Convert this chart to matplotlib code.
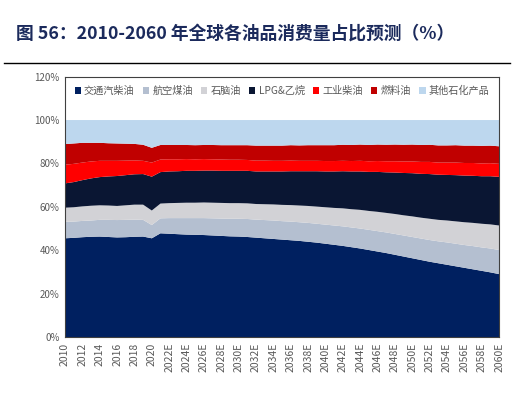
import matplotlib
matplotlib.use("Agg")
import matplotlib.pyplot as plt
from matplotlib.patches import Patch

plt.rcParams['font.family'] = ['Noto Sans CJK SC', 'DejaVu Sans']
plt.rcParams['axes.unicode_minus'] = False

# data: share of global oil consumption by product (%), 2010-2060
years = list(range(2010, 2061))
gasoline = [45.5, 45.7, 46.0, 46.2, 46.3, 46.1, 45.9, 46.0, 46.2, 46.3,
            45.5, 47.8, 47.6, 47.4, 47.2, 47.1, 47.0, 46.8, 46.6, 46.4,
            46.3, 46.1, 45.8, 45.5, 45.2, 44.9, 44.6, 44.3, 43.9, 43.5,
            43.0, 42.5, 42.0, 41.4, 40.8, 40.1, 39.4, 38.7, 37.9, 37.1,
            36.3, 35.5, 34.7, 34.0, 33.3, 32.6, 31.9, 31.2, 30.5, 29.8, 29.0]
jet_fuel = [7.6, 7.5, 7.5, 7.5, 7.7, 7.9, 8.0, 8.0, 7.9, 7.7,
            6.1, 6.9, 7.2, 7.4, 7.6, 7.7, 7.8, 7.9, 8.0, 8.1,
            8.2, 8.3, 8.3, 8.4, 8.5, 8.5, 8.6, 8.6, 8.7, 8.7,
            8.8, 8.9, 9.0, 9.1, 9.2, 9.3, 9.4, 9.5, 9.6, 9.7,
            9.8, 9.9, 10.0, 10.1, 10.3, 10.4, 10.5, 10.7, 10.8, 11.0, 11.1]
naphtha = [6.5, 6.6, 6.7, 6.8, 6.7, 6.6, 6.5, 6.7, 6.9, 7.0,
           6.7, 6.8, 6.9, 7.0, 7.1, 7.1, 7.2, 7.2, 7.2, 7.2,
           7.2, 7.2, 7.2, 7.3, 7.4, 7.5, 7.6, 7.7, 7.8, 7.9,
           8.0, 8.1, 8.3, 8.4, 8.6, 8.7, 8.9, 9.0, 9.2, 9.3,
           9.5, 9.6, 9.8, 9.9, 10.1, 10.3, 10.5, 10.7, 10.9, 11.1, 11.3]
lpg_ethane = [11.2, 11.6, 12.1, 12.6, 13.0, 13.4, 13.8, 13.9, 14.0, 14.1,
              15.6, 14.5, 14.6, 14.6, 14.7, 14.7, 14.7, 14.8, 14.8, 14.9,
              14.9, 15.0, 15.0, 15.1, 15.2, 15.4, 15.6, 15.8, 16.0, 16.3,
              16.5, 16.8, 17.1, 17.4, 17.7, 18.0, 18.4, 18.7, 19.1, 19.5,
              19.9, 20.2, 20.6, 20.8, 21.0, 21.3, 21.5, 21.7, 21.9, 22.2, 22.4]
industrial_diesel = [8.6, 8.4, 8.1, 7.8, 7.5, 7.2, 7.0, 6.7, 6.4, 6.1,
                     6.5, 5.8, 5.6, 5.5, 5.4, 5.3, 5.3, 5.2, 5.2, 5.1,
                     5.1, 5.0, 5.0, 5.0, 4.9, 4.9, 4.9, 4.8, 4.8, 4.8,
                     4.8, 4.8, 4.8, 4.8, 4.9, 4.9, 5.0, 5.1, 5.2, 5.3,
                     5.4, 5.5, 5.6, 5.6, 5.7, 5.8, 5.8, 5.9, 5.9, 6.0, 6.0]
fuel_oil = [9.5, 9.4, 9.1, 8.6, 8.3, 8.1, 8.0, 7.8, 7.6, 7.4,
            6.8, 6.7, 6.6, 6.6, 6.5, 6.5, 6.5, 6.6, 6.6, 6.7,
            6.7, 6.8, 6.9, 6.9, 7.0, 7.0, 7.1, 7.1, 7.2, 7.2,
            7.3, 7.3, 7.4, 7.4, 7.5, 7.5, 7.6, 7.6, 7.7, 7.7,
            7.8, 7.8, 7.9, 7.9, 7.9, 8.0, 8.0, 8.0, 8.1, 8.1, 8.1]
other_petchem = [11.1, 10.8, 10.5, 10.5, 10.5, 10.7, 10.8, 10.9, 11.0, 11.4,
                 12.8, 11.5, 11.5, 11.5, 11.5, 11.6, 11.5, 11.5, 11.6, 11.6,
                 11.6, 11.6, 11.8, 11.8, 11.8, 11.8, 11.6, 11.7, 11.6, 11.6,
                 11.6, 11.6, 11.4, 11.5, 11.3, 11.5, 11.3, 11.4, 11.3, 11.4,
                 11.3, 11.5, 11.4, 11.7, 11.7, 11.6, 11.8, 11.8, 11.9, 11.8, 12.1]

labels = ['交通汽柴油', '航空煤油', '石脑油', 'LPG&乙烷', '工业柴油', '燃料油', '其他石化产品']
colors = ['#002060', '#B4BFD0', '#D2D2D6', '#0A1633', '#FF0000', '#C00000', '#BDD7EE']
tick_years = list(range(2010, 2061, 2))
tick_labels = [str(y) if y <= 2020 else f'{y}E' for y in tick_years]

fig = plt.figure(figsize=(5.3, 4.12), dpi=100)
fig.text(0.03, 0.918, '图 56：2010-2060 年全球各油品消费量占比预测（%）',
         fontsize=12.8, fontweight='heavy', color='#1B2A5C', va='center')
fig.add_artist(plt.Line2D([0.008, 0.962], [0.847, 0.847], color='black', lw=1.0))

ax = fig.add_axes([0.1226, 0.182, 0.819, 0.632])
ax.stackplot(years, gasoline, jet_fuel, naphtha, lpg_ethane, industrial_diesel,
             fuel_oil, other_petchem, colors=colors, labels=labels, lw=0)
ax.set_xlim(2010, 2060)
ax.set_ylim(0, 120)
ax.set_yticks(range(0, 121, 20))
ax.set_yticklabels([f'{v}%' for v in range(0, 121, 20)], fontsize=7, color='#595959')
ax.set_xticks(tick_years)
ax.set_xticklabels(tick_labels, rotation=90, fontsize=7.5, color='#595959')
ax.tick_params(length=0, pad=4)
for s in ax.spines.values():
    s.set_color('#404040')
    s.set_linewidth(0.8)

handles = [Patch(facecolor=c, edgecolor='none') for c in colors]
ax.legend(handles, labels, loc='upper center', bbox_to_anchor=(0.5, 1.0), ncol=7,
          frameon=False, fontsize=7.3, handlelength=0.6, handleheight=0.6,
          handletextpad=0.3, columnspacing=0.85, labelcolor='#595959',
          borderaxespad=0.5)

fig.savefig('out.png', dpi=100)
